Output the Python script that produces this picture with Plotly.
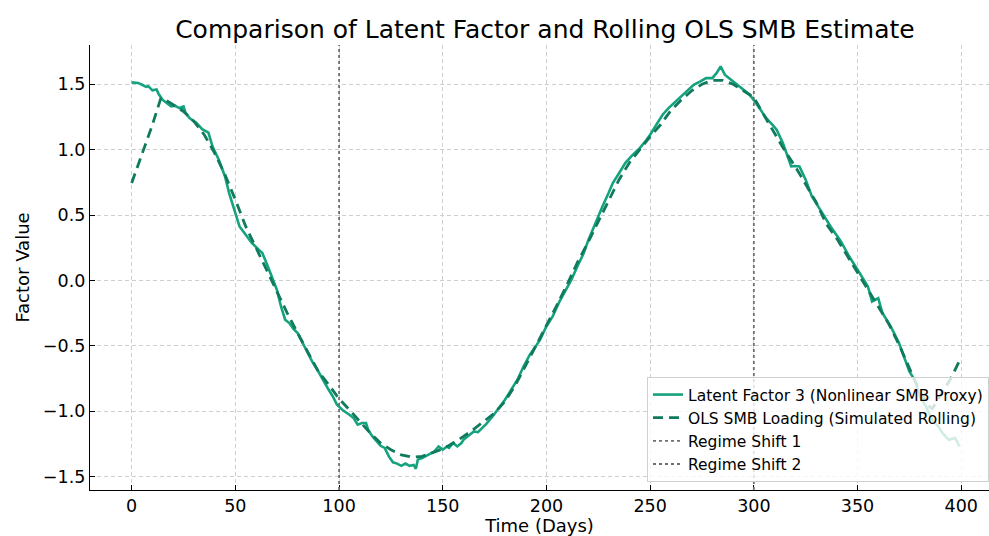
import plotly.graph_objects as go

# ---- data ----
latent_days = [0, 3, 5, 7, 8, 10, 12, 13, 15, 17, 19, 21, 23, 25, 26, 28, 31, 34, 36, 37, 39, 42, 45, 47, 50,
               52, 55, 58, 61, 63, 65, 68, 70, 72, 74, 76, 78, 80, 82, 84, 87, 90, 93, 95, 97, 99, 101, 102,
               105, 107, 109, 111, 113, 114, 116, 118, 120, 122, 124, 126, 128, 130, 132, 134, 136, 137, 138,
               140, 142, 144, 146, 148, 150, 152, 153, 155, 157, 159, 160, 163, 165, 167, 169, 171, 174, 177,
               180, 183, 186, 189, 192, 195, 197, 200, 203, 206, 209, 212, 215, 218, 220, 223, 227, 230, 232,
               235, 238, 241, 245, 248, 250, 253, 256, 259, 263, 267, 271, 274, 277, 280, 282, 284, 286, 289,
               293, 298, 301, 303, 306, 309, 311, 314, 317, 318, 320, 322, 325, 328, 332, 337, 342, 346, 351,
               355, 357, 360, 362, 366, 370, 373, 375, 378, 380, 383, 386, 389, 391, 394, 397, 398, 399]
latent_values = [1.514, 1.51, 1.496, 1.48, 1.485, 1.453, 1.46, 1.425, 1.38, 1.356, 1.33, 1.335, 1.318, 1.33,
                 1.28, 1.24, 1.208, 1.157, 1.139, 1.13, 1.024, 0.923, 0.795, 0.668, 0.515, 0.413, 0.349,
                 0.286, 0.24, 0.209, 0.133, 0.005, -0.071, -0.199, -0.30, -0.326, -0.37, -0.402, -0.466,
                 -0.525, -0.619, -0.696, -0.785, -0.836, -0.887, -0.95, -0.98, -0.995, -1.027, -1.052,
                 -1.103, -1.09, -1.09, -1.141, -1.19, -1.23, -1.264, -1.28, -1.345, -1.39, -1.40, -1.417,
                 -1.40, -1.417, -1.41, -1.44, -1.37, -1.358, -1.34, -1.32, -1.307, -1.269, -1.294, -1.27,
                 -1.28, -1.243, -1.269, -1.243, -1.218, -1.18, -1.154, -1.16, -1.128, -1.096, -1.04, -0.976,
                 -0.912, -0.836, -0.759, -0.657, -0.568, -0.50, -0.45, -0.35, -0.275, -0.17, -0.08, 0.005,
                 0.11, 0.209, 0.30, 0.42, 0.566, 0.67, 0.745, 0.82, 0.897, 0.95, 1.012, 1.07, 1.114, 1.19,
                 1.267, 1.32, 1.381, 1.44, 1.496, 1.52, 1.547, 1.547, 1.585, 1.636, 1.573, 1.534, 1.483,
                 1.42, 1.356, 1.31, 1.241, 1.19, 1.152, 1.05, 0.923, 0.872, 0.875, 0.872, 0.77, 0.642,
                 0.541, 0.413, 0.298, 0.183, 0.057, -0.046, -0.161, -0.135, -0.249, -0.352, -0.479, -0.606,
                 -0.696, -0.772, -0.887, -0.963, -1.065, -1.116, -1.167, -1.218, -1.205, -1.23, -1.269]

ols_days = [0, 5, 10, 14, 15, 20, 25, 30, 35, 40, 45, 50, 55, 60, 65, 70, 75, 80, 85, 90, 95, 100, 105, 110,
            115, 120, 125, 130, 135, 140, 145, 150, 155, 160, 165, 170, 175, 180, 185, 190, 195, 200, 205,
            210, 215, 220, 225, 230, 235, 240, 245, 250, 255, 260, 265, 270, 275, 280, 285, 290, 295, 300,
            305, 310, 315, 320, 325, 330, 335, 340, 345, 350, 355, 360, 365, 370, 375, 380, 385, 386, 390,
            395, 399]
ols_values = [0.745, 0.97, 1.19, 1.39, 1.394, 1.343, 1.292, 1.216, 1.114, 0.974, 0.808, 0.617, 0.413, 0.248,
              0.082, -0.096, -0.249, -0.402, -0.555, -0.696, -0.797, -0.905, -0.989, -1.078, -1.167,
              -1.243, -1.294, -1.333, -1.35, -1.345, -1.32, -1.289, -1.243, -1.193, -1.136, -1.078,
              -1.014, -0.925, -0.80, -0.65, -0.50, -0.35, -0.19, -0.03, 0.14, 0.29, 0.45, 0.62, 0.77,
              0.90, 1.00, 1.10, 1.19, 1.30, 1.38, 1.45, 1.50, 1.53, 1.53, 1.50, 1.45, 1.40, 1.26, 1.12,
              0.99, 0.87, 0.74, 0.60, 0.43, 0.32, 0.19, 0.06, -0.07, -0.21, -0.33, -0.49, -0.67, -0.85,
              -0.97, -0.98, -0.88, -0.75, -0.62]

regime_shift_days = [100, 300]
regime_shift_names = ["Regime Shift 1", "Regime Shift 2"]

x_ticks = [0, 50, 100, 150, 200, 250, 300, 350, 400]
y_ticks = [-1.5, -1.0, -0.5, 0.0, 0.5, 1.0, 1.5]
y_tick_text = ["\u22121.5", "\u22121.0", "\u22120.5", "0.0", "0.5", "1.0", "1.5"]

FONT = "DejaVu Sans"
fig = go.Figure()

fig.add_trace(go.Scatter(x=latent_days, y=latent_values, mode="lines",
                         name="Latent Factor 3 (Nonlinear SMB Proxy)", legendgroup="a",
                         line=dict(color="#15a27e", width=2.6)))
fig.add_trace(go.Scatter(x=ols_days, y=ols_values, mode="lines",
                         name="OLS SMB Loading (Simulated Rolling)", legendgroup="b",
                         line=dict(color="#0f7a5c", width=2.8, dash="10px,6px")))

for i, (d, nm) in enumerate(zip(regime_shift_days, regime_shift_names)):
    fig.add_vline(x=d, line=dict(color="#707070", width=1.8, dash="dot"),
                  showlegend=True, name=nm, legendgroup="r%d" % i, layer="above")

grid = dict(showgrid=True, gridcolor="#cfcfcf", gridwidth=1, griddash="4px,3px")
fig.update_xaxes(range=[-20.1, 413.4], tickvals=x_ticks, ticks="inside", ticklen=5,
                 tickcolor="#000", showline=True, linecolor="#000", linewidth=1.3,
                 zeroline=False, tickfont=dict(size=17.5, color="#000", family=FONT),
                 title=dict(text="Time (Days)", font=dict(size=18, color="#000", family=FONT),
                            standoff=2), **grid)
fig.update_yaxes(range=[-1.602, 1.80], tickvals=y_ticks, ticktext=y_tick_text, ticks="inside",
                 ticklen=5, tickcolor="#000", showline=True, linecolor="#000", linewidth=1.3,
                 zeroline=False, tickfont=dict(size=17.5, color="#000", family=FONT),
                 title=dict(text="Factor Value", font=dict(size=18, color="#000", family=FONT),
                            standoff=8), **grid)

fig.update_layout(
    width=989, height=536,
    margin=dict(l=90, r=0, t=45, b=46),
    paper_bgcolor="white", plot_bgcolor="white",
    font=dict(family=FONT, color="#000"),
    title=dict(text="Comparison of Latent Factor and Rolling OLS SMB Estimate",
               font=dict(size=25, color="#000", family=FONT), x=0.551, xanchor="center",
               y=0.945, yanchor="middle"),
    legend=dict(x=1.0, xanchor="right", y=0.018, yanchor="bottom",
                bgcolor="rgba(255,255,255,0.8)", bordercolor="#d0d0d0", borderwidth=1,
                font=dict(size=15.5, color="#000", family=FONT), tracegroupgap=0),
    showlegend=True,
)

fig.write_html("out.html", config={"displayModeBar": False},
               post_script=["document.body.style.margin='0';"])
